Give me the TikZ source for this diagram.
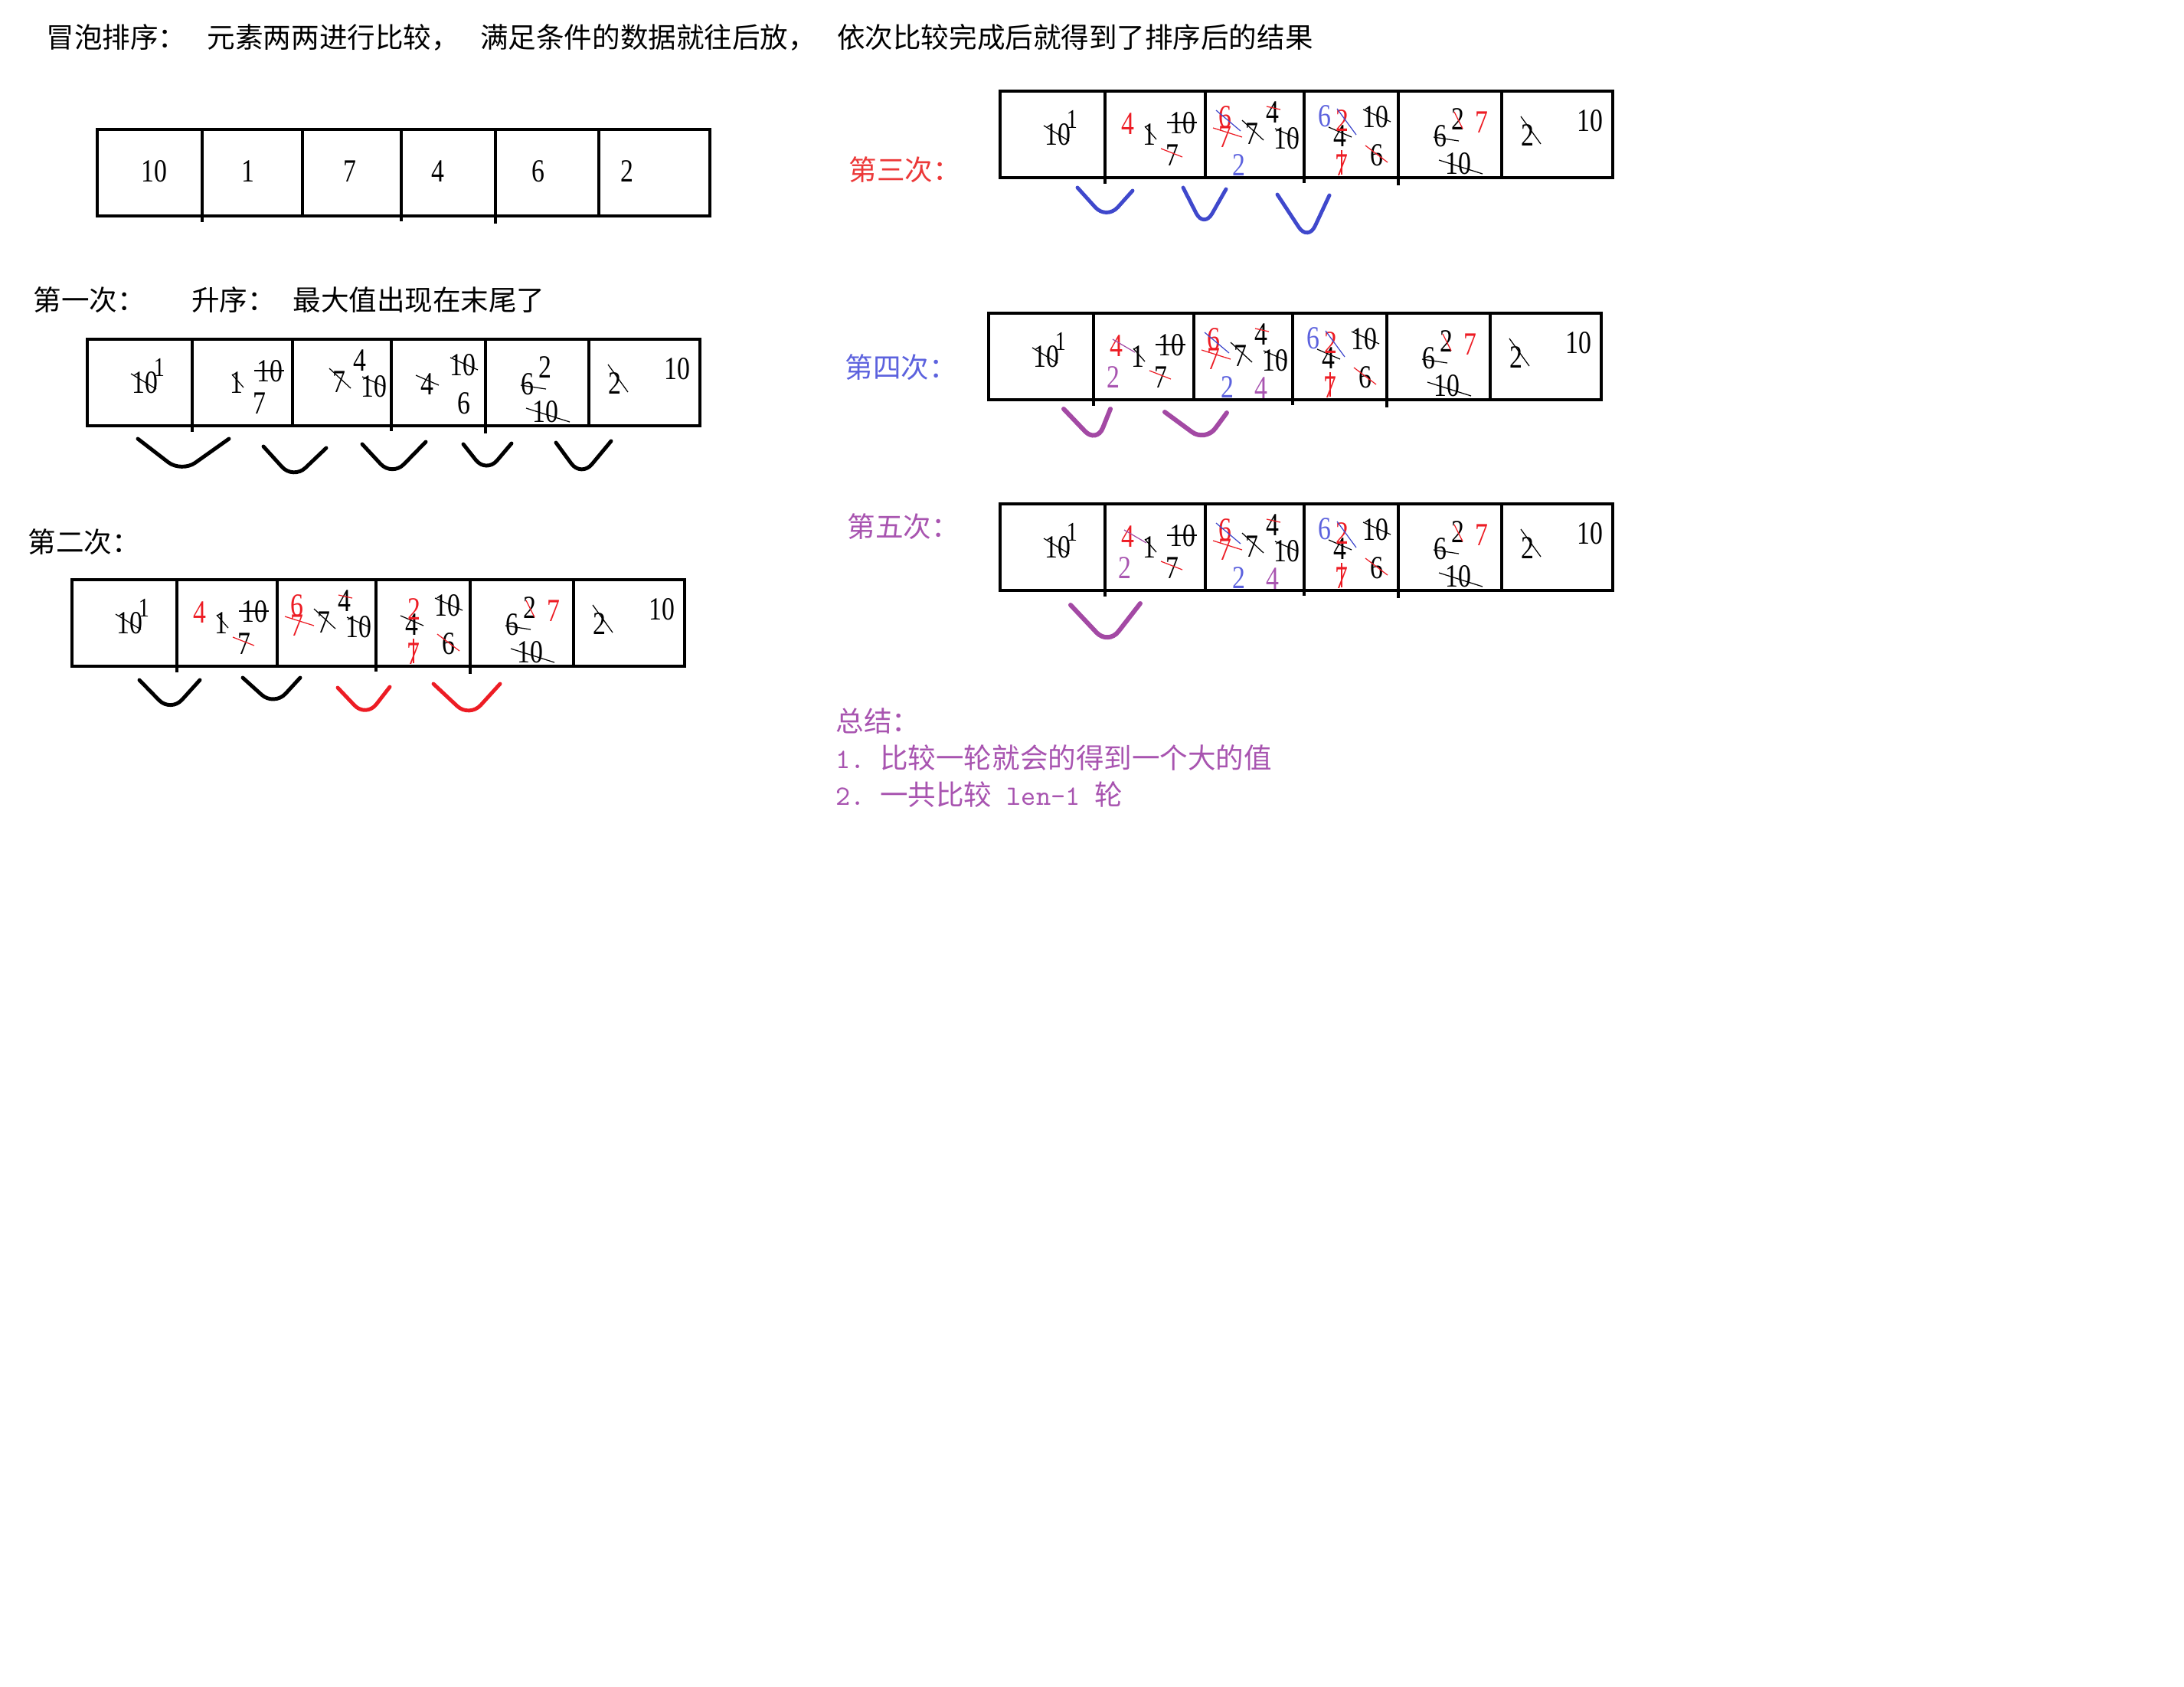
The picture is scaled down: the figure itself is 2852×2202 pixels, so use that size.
\documentclass[tikz,border=0pt]{standalone}
\usepackage{fontspec}
\usepackage{xcolor}
\usetikzlibrary{positioning}
\setmainfont{Liberation Serif}
\newfontfamily\cjkfont{Noto Sans CJK SC}
\newfontfamily\digitfont[FakeStretch=0.8]{Liberation Serif}

\definecolor{penred}{RGB}{237,28,36}
\definecolor{penblue}{RGB}{63,72,204}
\definecolor{penpurple}{RGB}{163,73,164}
\definecolor{txtred}{RGB}{236,56,56}
\definecolor{txtblue}{RGB}{92,98,222}
\definecolor{txtpurple}{RGB}{168,84,176}

% crossing-out stroke over a digit node
\newcommand{\numstrike}[4][black]{%
  \draw[strk,#1] ([shift={(#3)}]#2.center) -- ([shift={(#4)}]#2.center);}
% compare mark under two cells
\newcommand{\cmparc}[4][black]{%
  \draw[arcmark,#1] (#2) -- ([yshift=-1.5mm]#3) -- (#4);}
% six cells of one array
\newcommand{\cells}{%
  \draw[cellline] (0,0) rectangle (800,113);
  \foreach \xd/\yd in {137/121,268/113,397/120,520/123,655/113}
    \draw[cellline] (\xd,0) -- (\xd,\yd);}

% layer 1: first pass (black)
\newcommand{\passone}[1]{%
  \node[numtxt] (#1c1a) at (75,57) {10};
  \node[numtxt,font=\digitfont\fontsize{10}{10}\selectfont] (#1c1b) at (94,37) {1};
  \node[numtxt] (#1c2a) at (195,57) {1};
  \node[numtxt] (#1c2b) at (238,42) {10};
  \node[numtxt] (#1c2c) at (225,84) {7};
  \node[numtxt] (#1c3a) at (329,56) {7};
  \node[numtxt] (#1c3b) at (356,28) {4};
  \node[numtxt] (#1c3c) at (374,62) {10};
  \node[numtxt] (#1c4a) at (444,59) {4};
  \node[numtxt] (#1c4b) at (490,34) {10};
  \node[numtxt] (#1c4c) at (492,84) {6};
  \node[numtxt] (#1c5a) at (575,59) {6};
  \node[numtxt] (#1c5b) at (598,37) {2};
  \node[numtxt] (#1c5c) at (598,95) {10};
  \node[numtxt] (#1c6a) at (689,58) {2};
  \node[numtxt] (#1c6b) at (770,39) {10};
  \numstrike{#1c1a}{-18,-12}{15,8}
  \numstrike{#1c2a}{-6,-11}{9,6}
  \numstrike{#1c2b}{-20,-1}{19,-1}
  \numstrike{#1c3a}{-13,-18}{15,8}
  \numstrike{#1c3c}{-15,-13}{15,0}
  \numstrike{#1c4a}{-15,-12}{15,1}
  \numstrike{#1c4b}{-16,-10}{20,6}
  \numstrike{#1c5a}{-9,1}{24,6}
  \numstrike{#1c5c}{-25,-5}{32,13}
  \numstrike{#1c6a}{-9,-25}{17,11}}

% layer 2: second pass (red)
\newcommand{\passtwo}[1]{%
  \node[numtxt,penred] (#1r4) at (167,43) {4};
  \node[numtxt,penred] (#1r6) at (294,34) {6};
  \node[numtxt,penred] (#1r7) at (294,60) {7};
  \node[numtxt,penred] (#1r2) at (447,39) {2};
  \node[numtxt,penred] (#1r7b) at (446,97) {7};
  \node[numtxt,penred] (#1r7c) at (629,41) {7};
  \numstrike[penred]{#1c2c}{-15,-9}{13,2}
  \numstrike[penred]{#1r7}{-16,-12}{22,0}
  \numstrike[penred]{#1c3b}{-8,-8}{10,-4}
  \numstrike[penred]{#1r7b}{0,-20}{0,12}
  \numstrike[penred]{#1c4c}{-15,-13}{14,9}
  \numstrike[penred]{#1c5b}{-5,-10}{6,12}}

% layer 3: third pass (blue)
\newcommand{\passthree}[1]{%
  \node[numtxt,txtblue] (#1b2) at (312,97) {2};
  \node[numtxt,txtblue] (#1b6) at (424,33) {6};
  \numstrike[penblue]{#1r6}{-12,-9}{20,18}
  \numstrike[penblue]{#1r2}{-7,-16}{18,18}}

% layer 4: fourth pass (purple)
\newcommand{\passfour}[1]{%
  \node[numtxt,txtpurple] (#1p2) at (163,84) {2};
  \node[numtxt,txtpurple] (#1p4) at (356,98) {4};
  \numstrike[penpurple]{#1r4}{-5,-9}{24,8}}

\begin{document}
\begin{tikzpicture}[
  x=0.1mm, y=-0.1mm,
  lbl/.style={font=\cjkfont\fontsize{10.4}{12}\selectfont, inner sep=0, anchor=west},
  numtxt/.style={font=\digitfont\fontsize{12}{12}\selectfont, inner sep=0},
  cellline/.style={line width=1.4pt},
  strk/.style={line width=0.35pt},
  arcmark/.style={line width=1.4pt, line cap=round, rounded corners=2.2mm},
]
  \fill[white] (0,0) rectangle (2852,2202);
  \useasboundingbox (0,0) rectangle (2852,2202);

  % Heading
  \node[lbl] (title) at (60,49) {冒泡排序：\hspace{0.75em}元素两两进行比较，\hspace{0.75em}满足条件的数据就往后放，\hspace{0.75em}依次比较完成后就得到了排序后的结果};

  % Start array
  \begin{scope}[shift={(127,169)}]
    \cells
    \node[numtxt] (a0c1) at (74,55) {10};
    \node[numtxt] (a0c2) at (197,55) {1};
    \node[numtxt] (a0c3) at (330,55) {7};
    \node[numtxt] (a0c4) at (445,55) {4};
    \node[numtxt] (a0c5) at (576,55) {6};
    \node[numtxt] (a0c6) at (692,55) {2};
  \end{scope}

  % Pass 1
  \node[lbl] (pass1) at (43,392) {第一次：\hspace{1.65em}升序：\hspace{0.62em}最大值出现在末尾了};
  \begin{scope}[shift={(114,443)}]
    \cells
    \passone{a1}
    \cmparc{66,130}{123,159}{185,130}
    \cmparc{230,140}{269,168}{312,142}
    \cmparc{359,137}{398,164}{442,134}
    \cmparc{491,137}{521,160}{554,136}
    \cmparc{612,135}{645,165}{684,133}
  \end{scope}

  % Pass 2
  \node[lbl] (pass2) at (36,708) {第二次：};
  \begin{scope}[shift={(94,757)}]
    \cells
    \passone{a2}
    \passtwo{a2}
    \cmparc{88,131}{129,158}{167,131}
    \cmparc{223,128}{264,150}{298,128}
    \cmparc[penred]{347,141}{384,165}{415,140}
    \cmparc[penred]{472,136}{519,165}{559,136}
  \end{scope}

  % Pass 3
  \node[lbl,txtred] (pass3) at (1108,222) {第三次：};
  \begin{scope}[shift={(1306,119)}]
    \cells
    \passone{a3}
    \passtwo{a3}
    \passthree{a3}
    \cmparc[penblue]{101,126}{139,153}{173,130}
    \cmparc[penblue]{239,126}{266,164}{295,128}
    \cmparc[penblue]{362,135}{402,181}{430,136}
  \end{scope}

  % Pass 4
  \node[lbl,txtblue] (pass4) at (1103,480) {第四次：};
  \begin{scope}[shift={(1291,409)}]
    \cells
    \passone{a4}
    \passtwo{a4}
    \passthree{a4}
    \passfour{a4}
    \cmparc[penpurple,line width=1.7pt]{98,125}{141,155}{159,125}
    \cmparc[penpurple,line width=1.7pt]{230,129}{283,153}{311,130}
  \end{scope}

  % Pass 5
  \node[lbl,txtpurple] (pass5) at (1106,688) {第五次：};
  \begin{scope}[shift={(1306,658)}]
    \cells
    \passone{a5}
    \passtwo{a5}
    \passthree{a5}
    \passfour{a5}
    \cmparc[penpurple,line width=1.7pt]{92,132}{141,169}{183,130}
  \end{scope}

  % Summary
  \node[lbl,txtpurple] (sum) at (1091,942) {总结：};
  \node[lbl,txtpurple] (sum1) at (1091,990) {\texttt{1.\ }比较一轮就会的得到一个大的值};
  \node[lbl,txtpurple] (sum2) at (1091,1038) {\texttt{2.\ }一共比较\texttt{\ len-1\ }轮};
\end{tikzpicture}
\end{document}
